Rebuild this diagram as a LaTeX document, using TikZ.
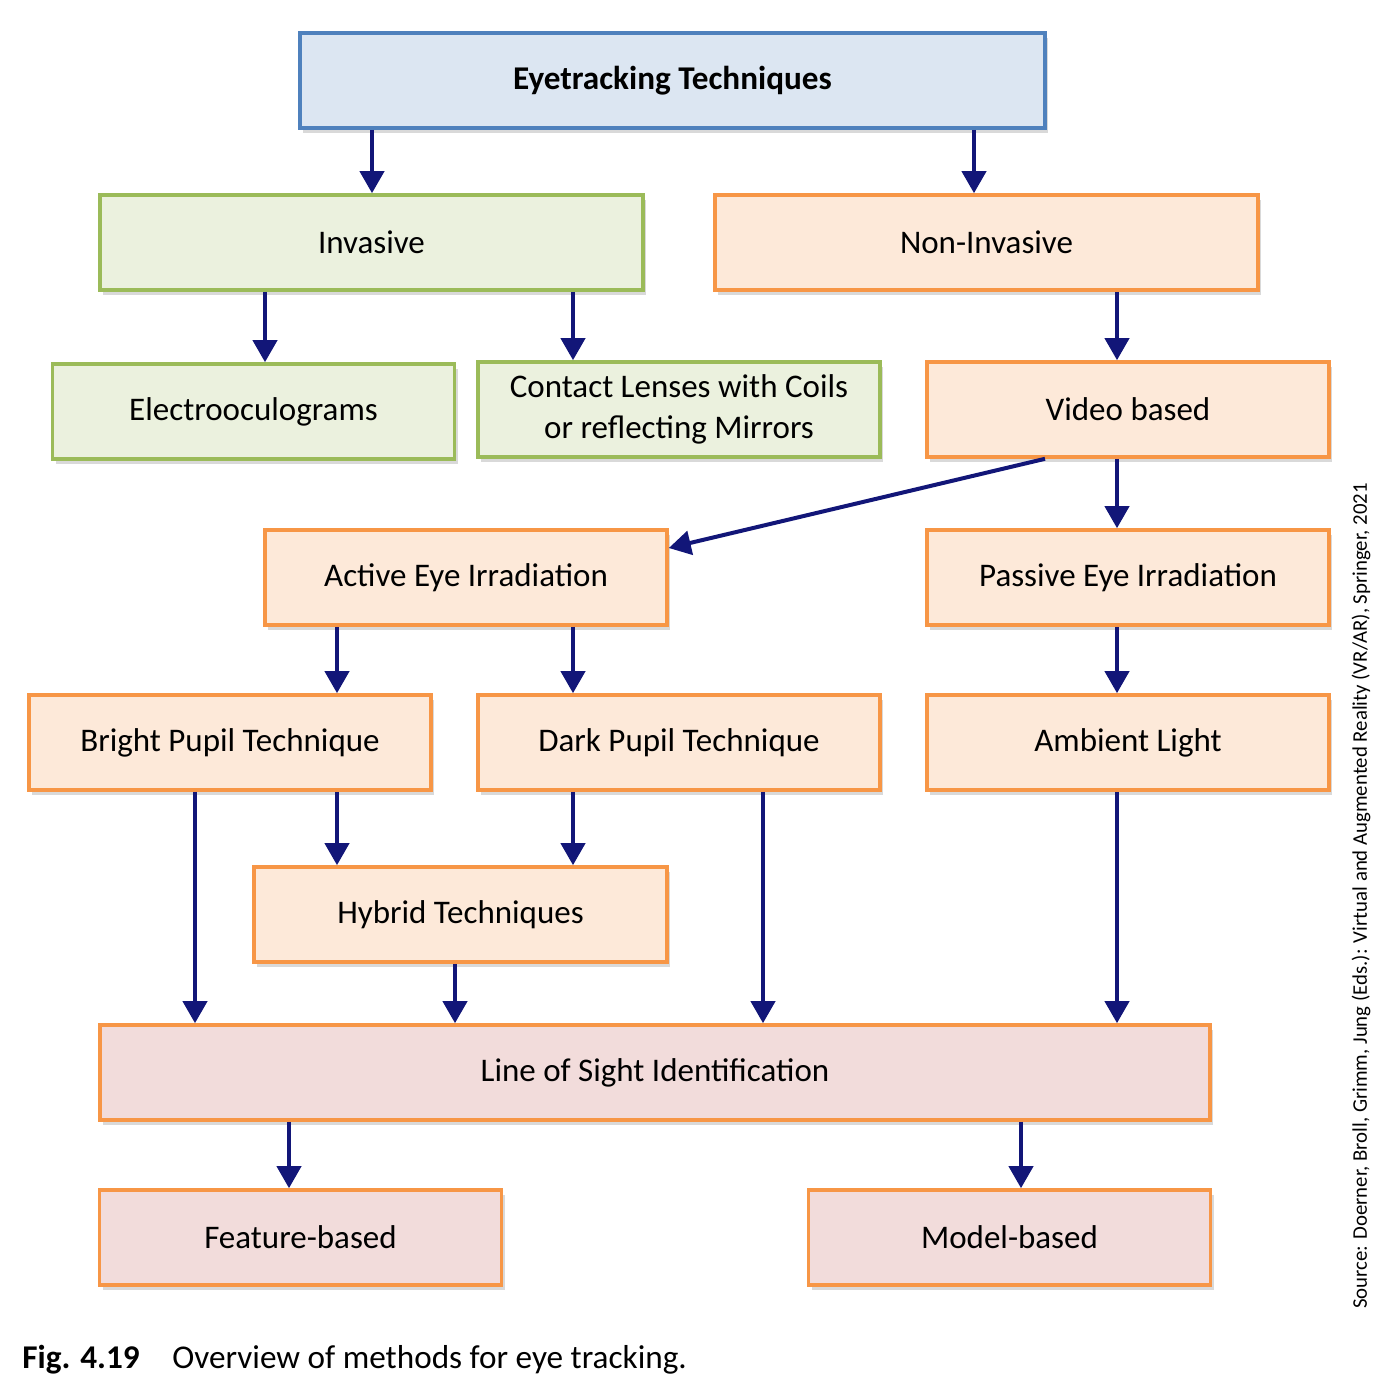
\documentclass[tikz,border=0pt]{standalone}
\usepackage{fontspec}
\setmainfont{Carlito}
\usetikzlibrary{arrows.meta,shadows}
\definecolor{navyarrow}{RGB}{18,22,120}
\definecolor{blueline}{RGB}{79,129,189}
\definecolor{bluefill}{RGB}{220,230,242}
\definecolor{greenline}{RGB}{155,187,89}
\definecolor{greenfill}{RGB}{235,241,222}
\definecolor{orangeline}{RGB}{247,150,70}
\definecolor{orangefill}{RGB}{253,233,217}
\definecolor{pinkfill}{RGB}{242,220,219}
\begin{document}
\begin{tikzpicture}[
        x=0.5pt, y=-0.5pt,
        box/.style={rectangle, line width=1.8pt, minimum width=201pt, minimum height=47.5pt,
            inner sep=0pt, align=center, font=\fontsize{16.5}{20.5}\selectfont,
            drop shadow={shadow xshift=1.5pt, shadow yshift=-2.5pt, opacity=0.3}},
        topbox/.style={box, draw=blueline, fill=bluefill, font=\fontsize{16.6}{20.5}\selectfont\bfseries},
        greenbox/.style={box, draw=greenline, fill=greenfill},
        orangebox/.style={box, draw=orangeline, fill=orangefill},
        pinkbox/.style={box, draw=orangeline, fill=pinkfill},
        arrow/.style={-{Triangle[width=12pt,length=11pt]}, navyarrow, line width=2pt}
    ]
        \useasboundingbox (0,0) rectangle (1382,1387);

        % Boxes
        \node[topbox, minimum width=372.5pt] (eyetrack) at (672.5,80.5) {Eyetracking Techniques};
        \node[greenbox, minimum width=271.5pt] (invasive) at (371.5,242.5) {Invasive};
        \node[orangebox, minimum width=271.5pt] (noninvasive) at (986.5,242.5) {Non-Invasive};
        \node[greenbox] (electro) at (253.5,411.5) {Electrooculograms};
        \node[greenbox] (contact) at (679,409.5) {Contact Lenses with Coils\\or reflecting Mirrors};
        \node[orangebox] (video) at (1128,409.5) {Video based};
        \node[orangebox] (active) at (466,577.5) {Active Eye Irradiation};
        \node[orangebox] (passive) at (1128,577.5) {Passive Eye Irradiation};
        \node[orangebox] (bright) at (230,742.5) {Bright Pupil Technique};
        \node[orangebox] (dark) at (679,742.5) {Dark Pupil Technique};
        \node[orangebox] (ambient) at (1128,742.5) {Ambient Light};
        \node[orangebox, minimum width=206.5pt] (hybrid) at (460.5,914.5) {Hybrid Techniques};
        \node[pinkbox, minimum width=555pt] (sight) at (655,1072.5) {Line of Sight Identification};
        \node[pinkbox] (feature) at (300.5,1237.5) {Feature-based};
        \node[pinkbox] (model) at (1009.5,1237.5) {Model-based};

        % Arrows
        \draw[arrow] (eyetrack.south -| 372,0) -- (invasive.north -| 372,0);
        \draw[arrow] (eyetrack.south -| 974,0) -- (noninvasive.north -| 974,0);
        \draw[arrow] (invasive.south -| 265,0) -- (electro.north -| 265,0);
        \draw[arrow] (invasive.south -| 573,0) -- (contact.north -| 573,0);
        \draw[arrow] (noninvasive.south -| 1117,0) -- (video.north -| 1117,0);
        \draw[arrow] (video.south -| 1045,0) -- (active.east |- 0,548);
        \draw[arrow] (video.south -| 1117,0) -- (passive.north -| 1117,0);
        \draw[arrow] (active.south -| 337,0) -- (bright.north -| 337,0);
        \draw[arrow] (active.south -| 573,0) -- (dark.north -| 573,0);
        \draw[arrow] (passive.south -| 1117,0) -- (ambient.north -| 1117,0);
        \draw[arrow] (bright.south -| 195,0) -- (sight.north -| 195,0);
        \draw[arrow] (bright.south -| 337,0) -- (hybrid.north -| 337,0);
        \draw[arrow] (dark.south -| 573,0) -- (hybrid.north -| 573,0);
        \draw[arrow] (dark.south -| 763,0) -- (sight.north -| 763,0);
        \draw[arrow] (hybrid.south -| 455,0) -- (sight.north -| 455,0);
        \draw[arrow] (ambient.south -| 1117,0) -- (sight.north -| 1117,0);
        \draw[arrow] (sight.south -| 289,0) -- (feature.north -| 289,0);
        \draw[arrow] (sight.south -| 1021,0) -- (model.north -| 1021,0);

        % Caption and source
        \node[anchor=base west, inner sep=0pt, font=\fontsize{16.6}{19}\selectfont\bfseries] (figno) at (22,1368) {Fig. 4.19};
        \node[anchor=base west, inner sep=0pt, font=\fontsize{16.6}{19}\selectfont] (caption) at (172,1368) {Overview of methods for eye tracking.};
        \node[rotate=90, inner sep=0pt, font=\fontsize{10.4}{12}\selectfont] (source) at (1361,896)
            {Source: Doerner, Broll, Grimm, Jung (Eds.): Virtual and Augmented Reality (VR/AR), Springer, 2021};
    \end{tikzpicture}
\end{document}
